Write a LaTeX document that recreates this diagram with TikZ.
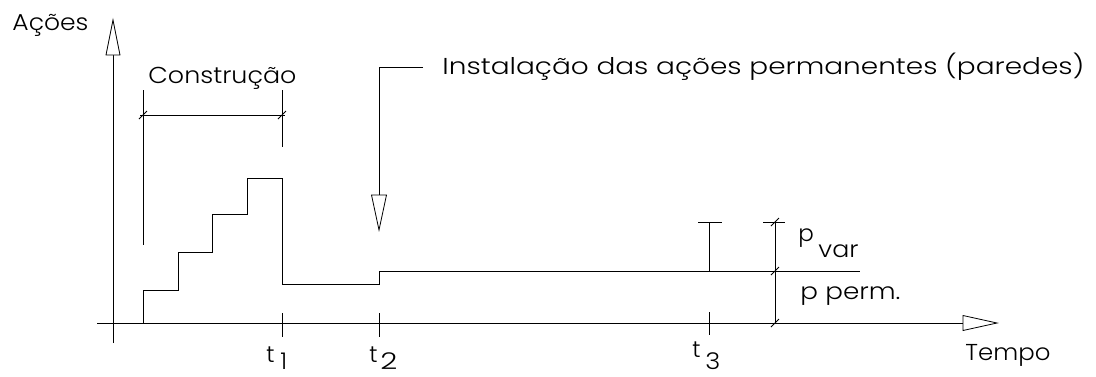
\documentclass[tikz,border=0pt]{standalone}
\usepackage{fontspec}
\setmainfont{Poppins}[UprightFont=* Light]
\newcommand\fitw[2]{\resizebox{#1}{\height}{#2}}
\begin{document}
\begin{tikzpicture}[x=1pt,y=-1pt,line width=0.9pt,line join=miter,
  lbl/.style={anchor=base west,inner sep=0pt,font=\fontsize{23}{26}\selectfont},
  hollow/.style={draw,fill=white,line width=0.8pt},
  slash/.style={line width=0.8pt}]
\useasboundingbox (0,0) rectangle (1096,376);
% axes
\draw (113,343) -- (113,55);
\draw[hollow] (106,55) -- (113,20) -- (120,55) -- cycle;
\draw (97,323) -- (963,323);
\draw[hollow] (963,315.5) -- (997,323) -- (963,330.5) -- cycle;
% load history
\draw (143,323) |- (178,290) |- (212,252) |- (247,214) |- (282,178)
      |- (379,284) |- (860,271);
% construction dimension
\draw (143,90) -- (143,245);
\draw (282,90) -- (282,147);
\draw (140,115) -- (285,115);
\draw[slash] (139,119) -- (147,111);
\draw[slash] (278,119) -- (286,111);
% time ticks
\draw (282,313) -- (282,337);
\draw (379,313) -- (379,337);
\draw (709,312) -- (709,335);
% installation arrow
\draw (423,67) -- (379,67) -- (379,195);
\draw[hollow] (371.5,195) -- (379,230) -- (386.5,195) -- cycle;
% p var
\draw (698,222) -- (722,222);
\draw (709,222) -- (709,271);
\draw (763,222) -- (785,222);
\draw (775,222) -- (775,323);
\draw[slash] (771,226) -- (779,218);
\draw[slash] (771,275) -- (779,267);
\draw[slash] (771,327) -- (779,319);
% labels
\node[lbl] (acoes) at (12,30) {\fitw{76pt}{Ações}};
\node[lbl] (constr) at (148,83) {\fitw{148pt}{Construção}};
\node[lbl] (instal) at (442,74) {\fitw{642pt}{Instalação das ações permanentes (paredes)}};
\node[lbl] (tempo) at (965,360) {\fitw{85pt}{Tempo}};
\node[lbl] (pperm) at (800,299) {\fitw{100pt}{p perm.}};
\node[lbl] (pv) at (798,241) {p};
\node[lbl] (var) at (818,257) {\fitw{40pt}{var}};
\node[lbl] (t1) at (266,362) {t};
\node[lbl] (s1) at (280,369) {1};
\node[lbl] (t2) at (369,362) {t};
\node[lbl] (s2) at (380,369) {\fitw{17pt}{2}};
\node[lbl] (t3) at (692,357) {t};
\node[lbl] (s3) at (705,369) {\fitw{15pt}{3}};
\end{tikzpicture}
\end{document}
